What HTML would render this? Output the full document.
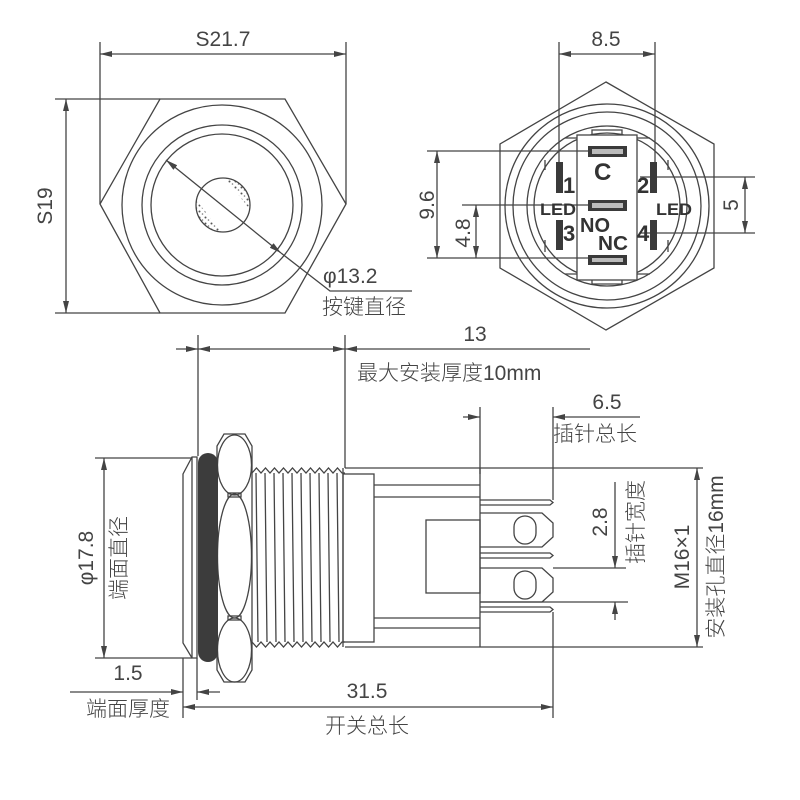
<!DOCTYPE html>
<html><head><meta charset="utf-8"><style>
html,body{margin:0;padding:0;background:#fff;}
svg{display:block;}
text{font-family:"Liberation Sans","Noto Sans CJK SC",sans-serif;fill:#444;}
.t{font-size:21px;font-weight:300;}
.b{font-family:"Liberation Sans",sans-serif;font-weight:bold;fill:#333;}
</style></head><body>
<svg width="800" height="800" viewBox="0 0 800 800" xmlns="http://www.w3.org/2000/svg">
<defs>
<marker id="a" viewBox="0 0 12 6" refX="12" refY="3" markerWidth="12" markerHeight="6" orient="auto-start-reverse" markerUnits="userSpaceOnUse"><path d="M0,0 L12,3 L0,6 z" fill="#444"/></marker>
<pattern id="sp" width="6" height="6" patternUnits="userSpaceOnUse"><circle cx="1.5" cy="1.5" r="1" fill="#555"/><circle cx="4.5" cy="4" r="0.8" fill="#777"/></pattern>
<clipPath id="dot"><circle cx="223" cy="205" r="27"/></clipPath>
</defs>
<g stroke="#444" stroke-width="1.3" fill="none">
<!-- TOP LEFT -->
<polygon points="160,99 285,99 346,204 285,313 160,313 100,204"/>
<circle cx="222" cy="205" r="100"/>
<circle cx="222" cy="205" r="80"/>
<circle cx="222" cy="205" r="71"/>
</g>
<g clip-path="url(#dot)">
<polygon points="225,178 252,178 252,212" fill="url(#sp)"/>
<polygon points="196,200 196,232 222,232" fill="url(#sp)"/>
</g>
<g stroke="#444" stroke-width="1.3" fill="none">
<circle cx="223" cy="205" r="27" />
<line x1="100" y1="42" x2="100" y2="204"/><line x1="346" y1="42" x2="346" y2="204"/>
<line x1="100" y1="54" x2="346" y2="54" marker-start="url(#a)" marker-end="url(#a)"/>
<line x1="55" y1="99" x2="160" y2="99"/><line x1="55" y1="313" x2="160" y2="313"/>
<line x1="66" y1="99" x2="66" y2="313" marker-start="url(#a)" marker-end="url(#a)"/>
<line x1="166" y1="160" x2="281" y2="253" marker-start="url(#a)" marker-end="url(#a)"/>
<polyline points="281,253 330,291 412,291"/>
<!-- TOP RIGHT -->
<polygon points="606,82 714,144 714,268 606,330 500,268 500,144"/>
<circle cx="607" cy="206" r="102"/>
<circle cx="607" cy="206" r="94"/>
<circle cx="607" cy="206" r="80"/>
<circle cx="607" cy="206" r="73"/>
<path d="M565,138 H577 M637,138 H650 M565,274 H577 M637,274 H650 M545,160 V170 M545,240 V252 M668,160 V170 M668,240 V252 M592,135 V130 H622 V135 M592,280 V284 H622 V280"/>
<rect x="577" y="135" width="60" height="145" fill="#fff"/>
<line x1="559" y1="42" x2="559" y2="162"/><line x1="655" y1="42" x2="655" y2="162"/>
<line x1="559" y1="54" x2="655" y2="54" marker-start="url(#a)" marker-end="url(#a)"/>
<line x1="427" y1="151" x2="590" y2="151"/><line x1="427" y1="258" x2="590" y2="258"/>
<line x1="437" y1="151" x2="437" y2="258" marker-start="url(#a)" marker-end="url(#a)"/>
<line x1="462" y1="205" x2="590" y2="205"/>
<line x1="476" y1="205" x2="476" y2="258" marker-start="url(#a)" marker-end="url(#a)"/>
<line x1="640" y1="177" x2="755" y2="177"/><line x1="640" y1="233" x2="755" y2="233"/>
<line x1="745" y1="177" x2="745" y2="233" marker-start="url(#a)" marker-end="url(#a)"/>
</g>
<g fill="#3a3a3a">
<rect x="588" y="146" width="39" height="11"/><rect x="588" y="200" width="39" height="11"/><rect x="588" y="255" width="39" height="10"/>
<rect x="556" y="162" width="7" height="31"/><rect x="556" y="220" width="7" height="30"/>
<rect x="650" y="162" width="7" height="31"/><rect x="650" y="220" width="7" height="30"/>
</g>
<rect x="592" y="149" width="31" height="5" fill="#bbb"/><rect x="592" y="203" width="31" height="5" fill="#bbb"/><rect x="592" y="258" width="31" height="4" fill="#bbb"/>
<text class="b" x="563" y="193" font-size="22">1</text>
<text class="b" x="637" y="193" font-size="22">2</text>
<text class="b" x="594" y="180" font-size="24">C</text>
<text class="b" x="540" y="215" font-size="17" textLength="36" lengthAdjust="spacingAndGlyphs">LED</text>
<text class="b" x="656" y="215" font-size="17" textLength="36" lengthAdjust="spacingAndGlyphs">LED</text>
<text class="b" x="563" y="241" font-size="22">3</text>
<text class="b" x="637" y="241" font-size="22">4</text>
<text class="b" x="580" y="232" font-size="20" textLength="30" lengthAdjust="spacingAndGlyphs">NO</text>
<text class="b" x="598" y="250" font-size="20" textLength="30" lengthAdjust="spacingAndGlyphs">NC</text>
<!-- top texts -->
<text class="t" x="223" y="46" text-anchor="middle">S21.7</text>
<text class="t" transform="translate(52,206) rotate(-90)" text-anchor="middle">S19</text>
<text class="t" x="323" y="283">φ13.2</text>
<text class="t" x="322" y="314">按键直径</text>
<text class="t" x="606" y="46" text-anchor="middle">8.5</text>
<text class="t" transform="translate(434,205) rotate(-90)" text-anchor="middle">9.6</text>
<text class="t" transform="translate(470,233) rotate(-90)" text-anchor="middle">4.8</text>
<text class="t" transform="translate(738,205) rotate(-90)" text-anchor="middle">5</text>
<!-- BOTTOM -->
<g stroke="#444" stroke-width="1.3" fill="none">
<line x1="198" y1="335" x2="198" y2="456"/><line x1="345" y1="335" x2="345" y2="468"/>
<line x1="176" y1="349" x2="198" y2="349" marker-end="url(#a)"/>
<line x1="198" y1="349" x2="345" y2="349" marker-start="url(#a)" marker-end="url(#a)"/>
<line x1="345" y1="349" x2="590" y2="349" marker-start="url(#a)"/>
<line x1="480" y1="407" x2="480" y2="474"/><line x1="553" y1="407" x2="553" y2="500"/>
<line x1="463" y1="417" x2="480" y2="417" marker-end="url(#a)"/>
<line x1="553" y1="417" x2="640" y2="417" marker-start="url(#a)"/>
<line x1="95" y1="458" x2="192" y2="458"/><line x1="95" y1="658" x2="192" y2="658"/>
<line x1="104" y1="458" x2="104" y2="658" marker-start="url(#a)" marker-end="url(#a)"/>
<line x1="345" y1="468" x2="703" y2="468"/><line x1="345" y1="647" x2="703" y2="647"/>
<line x1="697" y1="468" x2="697" y2="647" marker-start="url(#a)" marker-end="url(#a)"/>
<line x1="553" y1="568" x2="626" y2="568"/><line x1="480" y1="602" x2="628" y2="602"/>
<line x1="615" y1="482" x2="615" y2="568" marker-end="url(#a)"/>
<line x1="615" y1="620" x2="615" y2="602" marker-end="url(#a)"/>
<line x1="183" y1="658" x2="183" y2="718"/><line x1="197" y1="658" x2="197" y2="700"/>
<line x1="553" y1="612" x2="553" y2="718"/>
<line x1="70" y1="692" x2="183" y2="692" marker-end="url(#a)"/>
<line x1="220" y1="692" x2="197" y2="692" marker-end="url(#a)"/>
<line x1="183" y1="707" x2="553" y2="707" marker-start="url(#a)" marker-end="url(#a)"/>
<path d="M197,457 H192 L183,474 V643 L192,658 H197 Z"/>
<line x1="192" y1="457" x2="192" y2="658"/>
<polygon points="224,434 245,434 252,446 252,670 245,682 224,682 217,670 217,446"/>
<ellipse cx="234.5" cy="465" rx="17" ry="30"/>
<ellipse cx="234.5" cy="556" rx="17" ry="62"/>
<ellipse cx="234.5" cy="650" rx="17" ry="32"/>
<rect x="228" y="493" width="13" height="4"/><rect x="228" y="616" width="13" height="4"/>
<path d="M252,473 l4.5,-5 l4.5,5 l4.5,-5 l4.5,5 l4.5,-5 l4.5,5 l4.5,-5 l4.5,5 l4.5,-5 l4.5,5 l4.5,-5 l4.5,5 l4.5,-5 l4.5,5 l4.5,-5 l4.5,5 l4.5,-5 l4.5,5 l4.5,-5 l4.5,5 H345"/>
<path d="M252,642 l4.5,5 l4.5,-5 l4.5,5 l4.5,-5 l4.5,5 l4.5,-5 l4.5,5 l4.5,-5 l4.5,5 l4.5,-5 l4.5,5 l4.5,-5 l4.5,5 l4.5,-5 l4.5,5 l4.5,-5 l4.5,5 l4.5,-5 l4.5,5 l4.5,-5 H345"/>
<path d="M256,473 L258,642 M265,473 L267,642 M274,473 L276,642 M283,473 L285,642 M292,473 L294,642 M301,473 L303,642 M310,473 L312,642 M319,473 L321,642 M328,473 L330,642 M337,473 L339,642"/>
<rect x="343" y="474" width="31" height="168"/>
<line x1="343" y1="468" x2="343" y2="647"/>
<line x1="480" y1="468" x2="480" y2="647"/>
<path d="M374,485 H480 M374,497 H480 M374,618 H480 M374,628 H480"/>
<rect x="426" y="520" width="54" height="73"/>
<path d="M480,500 H550 L553,502.5 L550,505 H480"/>
<path d="M480,553 H550 L553,555.5 L550,558 H480"/>
<path d="M480,607 H550 L553,609.5 L550,612 H480"/>
<path d="M480,513 H542 L553,523 V537 L542,547 H480"/>
<path d="M480,568 H542 L553,578 V592 L542,602 H480"/>
<rect x="514" y="516" width="22" height="28" rx="11"/>
<rect x="514" y="571" width="22" height="28" rx="11"/>
</g>
<rect x="198" y="453" width="20" height="209" rx="10" fill="#3c3c3c"/>
<text class="t" x="475" y="341" text-anchor="middle">13</text>
<text class="t" x="357" y="380">最大安装厚度10mm</text>
<text class="t" x="607" y="409" text-anchor="middle">6.5</text>
<text class="t" x="553" y="441">插针总长</text>
<text class="t" transform="translate(93,558) rotate(-90)" text-anchor="middle">φ17.8</text>
<text class="t" transform="translate(126,558) rotate(-90)" text-anchor="middle">端面直径</text>
<text class="t" transform="translate(607,522) rotate(-90)" text-anchor="middle">2.8</text>
<text class="t" transform="translate(643,522) rotate(-90)" text-anchor="middle">插针宽度</text>
<text class="t" transform="translate(689,557) rotate(-90)" text-anchor="middle">M16×1</text>
<text class="t" transform="translate(723,557) rotate(-90)" text-anchor="middle">安装孔直径16mm</text>
<text class="t" x="128" y="680" text-anchor="middle">1.5</text>
<text class="t" x="128" y="716" text-anchor="middle">端面厚度</text>
<text class="t" x="367" y="698" text-anchor="middle">31.5</text>
<text class="t" x="367" y="733" text-anchor="middle">开关总长</text>
</svg>
</body></html>
